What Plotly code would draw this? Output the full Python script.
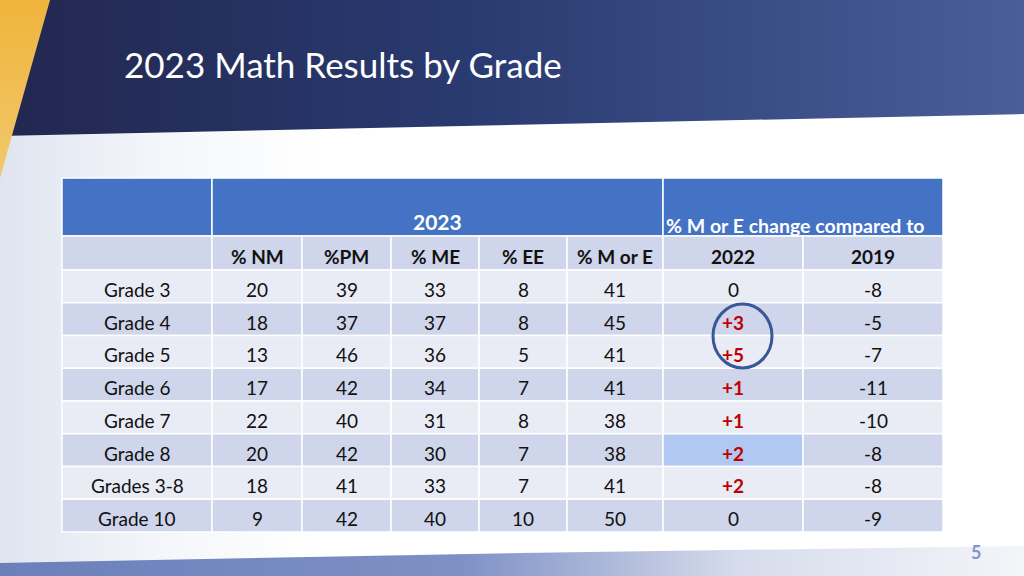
import plotly.graph_objects as go

# --- table data -------------------------------------------------------------
grades = ["Grade 3", "Grade 4", "Grade 5", "Grade 6", "Grade 7",
          "Grade 8", "Grades 3-8", "Grade 10"]
pct_nm = [20, 18, 13, 17, 22, 20, 18, 9]
pct_pm = [39, 37, 46, 42, 40, 42, 41, 42]
pct_me = [33, 37, 36, 34, 31, 30, 33, 40]
pct_ee = [8, 8, 5, 7, 8, 7, 7, 10]
pct_m_or_e = [41, 45, 41, 41, 38, 38, 41, 50]
change_2022 = [0, 3, 5, 1, 1, 2, 2, 0]
change_2019 = [-8, -5, -7, -11, -10, -8, -8, -9]
sub_headers = ["% NM", "%PM", "% ME", "% EE", "% M or E", "2022", "2019"]

title = "2023 Math Results by Grade"
page_no = "5"

# --- layout (pixel space, y grows downward) --------------------------------
W, H = 1024, 576
col_edges = [62, 212, 302, 391, 479, 567, 663, 803, 943]
y_top, y_head, y_sub, row_h = 178, 236, 270, 32.75
TXT_DY = 3  # text sits a little low in its cell, as in the slide

BLUE = "#4472C4"
ROW_DARK = "#CFD5EA"
ROW_LIGHT = "#E9EBF5"
HILITE = "#B0C8F2"
RED = "#C00000"
FONT = "Lato"
BODY = 19

fig = go.Figure()


def grad_poly(xs, ys, scale, kind="horizontal"):
    fig.add_trace(go.Scatter(
        x=xs + [xs[0]], y=ys + [ys[0]], mode="lines", fill="toself",
        line=dict(width=0), fillgradient=dict(type=kind, colorscale=scale),
        hoverinfo="skip", showlegend=False))


# background decoration
grad_poly([0, 320, 320, 0], [136, 130, 565, 565],
          [[0, "#dfe4ef"], [0.5, "#f4f6fa"], [1, "#ffffff"]])
grad_poly([0, W, W, 0], [0, 0, 114, 136],
          [[0, "#22274f"], [0.45, "#293a70"], [1, "#4b5e98"]])
grad_poly([0, 50, 0], [0, 0, 178],
          [[0, "#f2c86c"], [1, "#efb43c"]], kind="vertical")
grad_poly([0, 520, W, W, 0], [563, 553, 546, H, H],
          [[0, "#6b7fba"], [0.45, "#7e90c5"], [0.72, "#d6dcec"], [1, "#f4f5f9"]])

shapes = []
annos = []


def cell(x0, x1, y0, y1, color):
    shapes.append(dict(type="rect", x0=x0, x1=x1, y0=y0, y1=y1,
                       fillcolor=color, line=dict(color="white", width=1.5),
                       layer="above"))


def text(x, y, s, size=BODY, color="#111111", bold=False, xanchor="center"):
    annos.append(dict(x=x, y=y, text=s, showarrow=False, xanchor=xanchor,
                      yanchor="middle",
                      font=dict(family=FONT, size=size, color=color,
                                weight="bold" if bold else "normal")))


# top header row (merged cells)
cell(col_edges[0], col_edges[1], y_top, y_head, BLUE)
cell(col_edges[1], col_edges[6], y_top, y_head, BLUE)
cell(col_edges[6], col_edges[8], y_top, y_head, BLUE)
text((col_edges[1] + col_edges[6]) / 2, 221, "2023", size=21,
     color="white", bold=True)
text(col_edges[6] + 1, 225, "% M or E change compared to", size=19.5,
     color="white", bold=True, xanchor="left")

# sub header row
for c in range(8):
    cell(col_edges[c], col_edges[c + 1], y_head, y_sub, ROW_DARK)
for c, lab in enumerate(sub_headers):
    text((col_edges[c + 1] + col_edges[c + 2]) / 2,
         (y_head + y_sub) / 2 + TXT_DY, lab, bold=True)

# body rows
columns = [pct_nm, pct_pm, pct_me, pct_ee, pct_m_or_e]
for r, g in enumerate(grades):
    y0 = y_sub + r * row_h
    y1 = y0 + row_h
    ym = (y0 + y1) / 2 + TXT_DY
    fill = ROW_LIGHT if r % 2 == 0 else ROW_DARK
    for c in range(8):
        col_fill = HILITE if (c == 6 and g == "Grade 8") else fill
        cell(col_edges[c], col_edges[c + 1], y0, y1, col_fill)
    text((col_edges[0] + col_edges[1]) / 2, ym, g)
    for c, vals in enumerate(columns):
        text((col_edges[c + 1] + col_edges[c + 2]) / 2, ym, str(vals[r]))
    v = change_2022[r]
    if v > 0:
        text((col_edges[6] + col_edges[7]) / 2, ym, f"+{v}", color=RED, bold=True)
    else:
        text((col_edges[6] + col_edges[7]) / 2, ym, str(v))
    text((col_edges[7] + col_edges[8]) / 2, ym, str(change_2019[r]))

# hand-drawn circle around Grade 4 / Grade 5 changes
shapes.append(dict(type="circle", x0=713, x1=772, y0=304, y1=368,
                   line=dict(color="#3a5796", width=3), layer="above"))

# title and page number
text(122, 64, title, size=35, color="white", xanchor="left")
text(976, 552, page_no, size=18, color="#8295d2", bold=True)

fig.update_layout(
    width=W, height=H, margin=dict(l=0, r=0, t=0, b=0),
    paper_bgcolor="white", plot_bgcolor="white",
    xaxis=dict(range=[0, W], visible=False, fixedrange=True),
    yaxis=dict(range=[H, 0], visible=False, fixedrange=True),
    shapes=shapes, annotations=annos, showlegend=False,
)

fig.write_html("out.html", config={"displayModeBar": False},
               post_script="document.body.style.margin='0';")
